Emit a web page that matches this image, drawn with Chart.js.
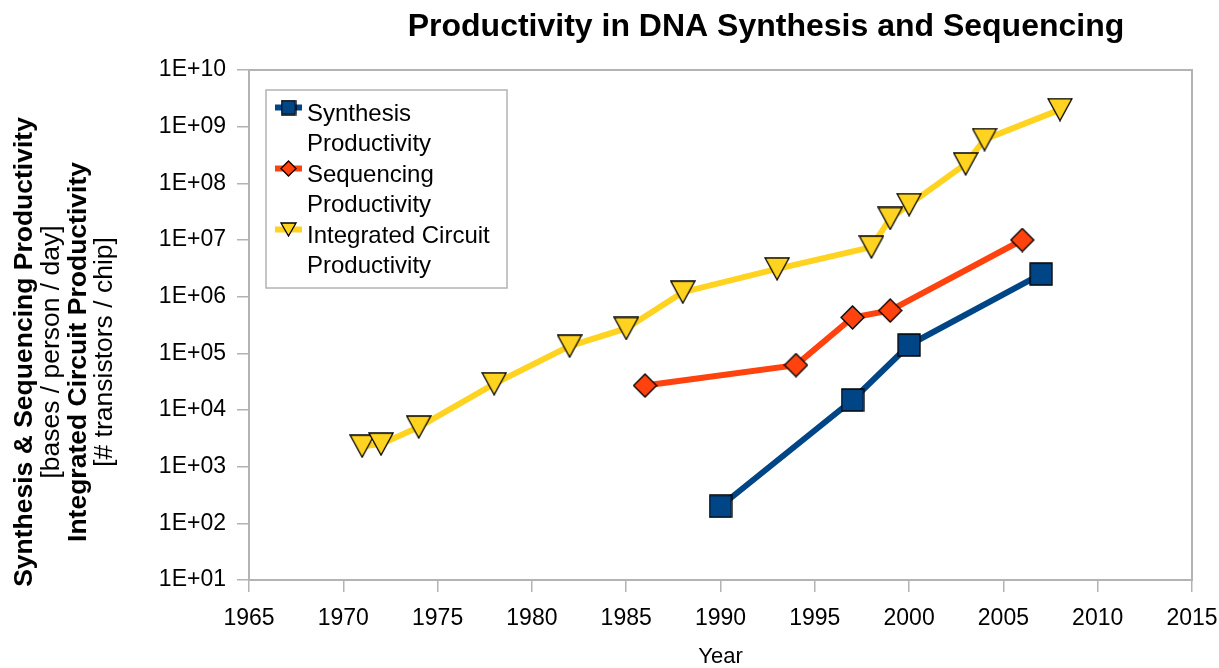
<!DOCTYPE html>
<html>
<head>
<meta charset="utf-8">
<title>Productivity in DNA Synthesis and Sequencing</title>
<script src="https://cdn.jsdelivr.net/npm/chart.js@4.4.1/dist/chart.umd.min.js"></script>
<style>
  body { margin: 0; background: #fff; }
  #wrap { width: 1219px; height: 668px; }
</style>
</head>
<body>
<div id="wrap"><canvas id="myChart"></canvas></div>
<script>
// data
var synthYears = [1990, 1997, 2000, 2007];
var synthValues = [200, 15000, 140000, 2500000];

var seqYears = [1986, 1994, 1997, 1999, 2006];
var seqValues = [27000, 62000, 430000, 570000, 10000000];

var icYears = [1971, 1972, 1974, 1978, 1982, 1985, 1988, 1993, 1998, 1999, 2000, 2003, 2004, 2008];
var icValues = [2300, 2500, 5000, 29000, 134000, 275000, 1200000, 3100000, 7500000, 24000000, 42000000, 220000000, 592000000, 2000000000];

var seriesNames = [["Synthesis", "Productivity"], ["Sequencing", "Productivity"], ["Integrated Circuit", "Productivity"]];
var yTickValues = [1e1, 1e2, 1e3, 1e4, 1e5, 1e6, 1e7, 1e8, 1e9, 1e10];
var xTickMin = 1965;
var xTickMax = 2015;
var xTickStep = 5;

var chartTitle = "Productivity in DNA Synthesis and Sequencing";
var yTitleLines = [
  ["Synthesis & Sequencing Productivity", true],
  ["[bases / person / day]", false],
  ["Integrated Circuit Productivity", true],
  ["[# transistors / chip]", false]
];
var xTitle = "Year";

var FONT = "'Liberation Sans', Arial, sans-serif";
var GRAY = '#b3b3b3';
var colors = ['#004586', '#ff420e', '#ffd320'];

function makeMarker(shape, color, w, h) {
  var c = document.createElement('canvas');
  c.width = w + 2;
  c.height = h + 2;
  var ctx = c.getContext('2d');
  ctx.fillStyle = color;
  ctx.strokeStyle = '#000';
  ctx.lineWidth = 1.3;
  ctx.beginPath();
  if (shape === 'square') {
    ctx.rect(1, 1, w, h);
  } else if (shape === 'diamond') {
    ctx.moveTo(1 + w / 2, 1);
    ctx.lineTo(1 + w, 1 + h / 2);
    ctx.lineTo(1 + w / 2, 1 + h);
    ctx.lineTo(1, 1 + h / 2);
  } else {
    ctx.moveTo(1, 1);
    ctx.lineTo(1 + w, 1);
    ctx.lineTo(1 + w / 2, 1 + h);
  }
  ctx.closePath();
  ctx.fill();
  ctx.stroke();
  return c;
}

var bigMarkers = [
  makeMarker('square', colors[0], 22, 22),
  makeMarker('diamond', colors[1], 23, 23),
  makeMarker('triangle', colors[2], 24, 22)
];
var smallMarkers = [
  makeMarker('square', colors[0], 14, 14),
  makeMarker('diamond', colors[1], 15, 15),
  makeMarker('triangle', colors[2], 15, 13)
];

function toPoints(xs, ys) {
  var pts = [];
  for (var i = 0; i < xs.length; i++) {
    pts.push({x: xs[i], y: ys[i]});
  }
  return pts;
}

function makeDataset(i, xs, ys) {
  return {
    label: seriesNames[i].join(' '),
    data: toPoints(xs, ys),
    borderColor: colors[i],
    backgroundColor: colors[i],
    borderWidth: 6,
    tension: 0,
    pointStyle: bigMarkers[i],
    pointRadius: 11,
    pointHoverRadius: 11
  };
}

// frame, legend box and titles drawn by hand
var decorPlugin = {
  id: 'decor',
  beforeDatasetsDraw: function(chart) {
    var a = chart.chartArea;
    var ctx = chart.ctx;
    ctx.save();
    ctx.strokeStyle = GRAY;
    ctx.lineWidth = 2;
    ctx.strokeRect(a.left, a.top, a.right - a.left, a.bottom - a.top);
    ctx.restore();
  },
  afterDraw: function(chart) {
    var ctx = chart.ctx;
    ctx.save();

    // title
    ctx.fillStyle = '#000';
    ctx.textAlign = 'center';
    ctx.textBaseline = 'middle';
    ctx.font = 'bold 32px ' + FONT;
    ctx.fillText(chartTitle, 766, 27);

    // y axis title
    ctx.save();
    ctx.translate(0, 352);
    ctx.rotate(-Math.PI / 2);
    var xs = [25, 52, 79, 105];
    for (var i = 0; i < yTitleLines.length; i++) {
      ctx.font = (yTitleLines[i][1] ? 'bold ' : '') + '26.5px ' + FONT;
      ctx.fillText(yTitleLines[i][0], 0, xs[i]);
    }
    ctx.restore();

    // legend
    var lx = 266, ly = 90, lw = 241, lh = 198;
    ctx.fillStyle = '#fff';
    ctx.fillRect(lx, ly, lw, lh);
    ctx.strokeStyle = GRAY;
    ctx.lineWidth = 1.5;
    ctx.strokeRect(lx, ly, lw, lh);

    ctx.textAlign = 'left';
    ctx.font = '24px ' + FONT;
    for (var k = 0; k < seriesNames.length; k++) {
      var ty = 114.5 + k * 61;
      var sy = ty - 7;
      ctx.strokeStyle = colors[k];
      ctx.lineWidth = 6;
      ctx.beginPath();
      ctx.moveTo(275, sy);
      ctx.lineTo(302, sy);
      ctx.stroke();
      var m = smallMarkers[k];
      ctx.drawImage(m, 288.5 - m.width / 2, sy - m.height / 2);
      ctx.fillStyle = '#000';
      for (var j = 0; j < seriesNames[k].length; j++) {
        ctx.fillText(seriesNames[k][j], 307, ty + j * 29.5);
      }
    }
    ctx.restore();
  }
};

function init() {
  var ctx = document.getElementById('myChart').getContext('2d');
  var chart = new Chart(ctx, {
    type: 'line',
    data: {
      datasets: [
        makeDataset(0, synthYears, synthValues),
        makeDataset(1, seqYears, seqValues),
        makeDataset(2, icYears, icValues)
      ]
    },
    options: {
      responsive: true,
      maintainAspectRatio: false,
      animation: false,
      layout: { padding: { top: 70, right: 27, left: 0, bottom: 0 } },
      plugins: {
        legend: { display: false },
        title: { display: false },
        tooltip: { enabled: false }
      },
      scales: {
        x: {
          type: 'linear',
          min: xTickMin,
          max: xTickMax,
          afterFit: function(scale) {
            scale.height = 88;
            scale.paddingLeft = 0;
            scale.paddingRight = 0;
          },
          grid: { drawOnChartArea: false, drawTicks: true, tickLength: 12, color: GRAY, lineWidth: 1.5 },
          border: { display: false },
          ticks: {
            stepSize: xTickStep,
            padding: 13,
            color: '#000',
            font: { family: FONT, size: 23 },
            callback: function(v) { return String(v); }
          },
          title: {
            display: true,
            text: xTitle,
            color: '#000',
            font: { family: FONT, size: 22, lineHeight: 1 },
            padding: { top: 0, bottom: 0 }
          }
        },
        y: {
          type: 'logarithmic',
          min: yTickValues[0],
          max: yTickValues[yTickValues.length - 1],
          afterFit: function(scale) { scale.width = 249; },
          afterBuildTicks: function(scale) {
            scale.ticks = yTickValues.map(function(v) { return {value: v}; });
          },
          grid: { drawOnChartArea: false, drawTicks: true, tickLength: 12, color: GRAY, lineWidth: 1.5 },
          border: { display: false },
          ticks: {
            padding: 11,
            color: '#000',
            font: { family: FONT, size: 23 },
            callback: function(v) {
              var e = Math.round(Math.log10(v));
              return '1E+' + (e < 10 ? '0' : '') + e;
            }
          }
        }
      }
    },
    plugins: [decorPlugin]
  });
}

init();
</script>
</body>
</html>
